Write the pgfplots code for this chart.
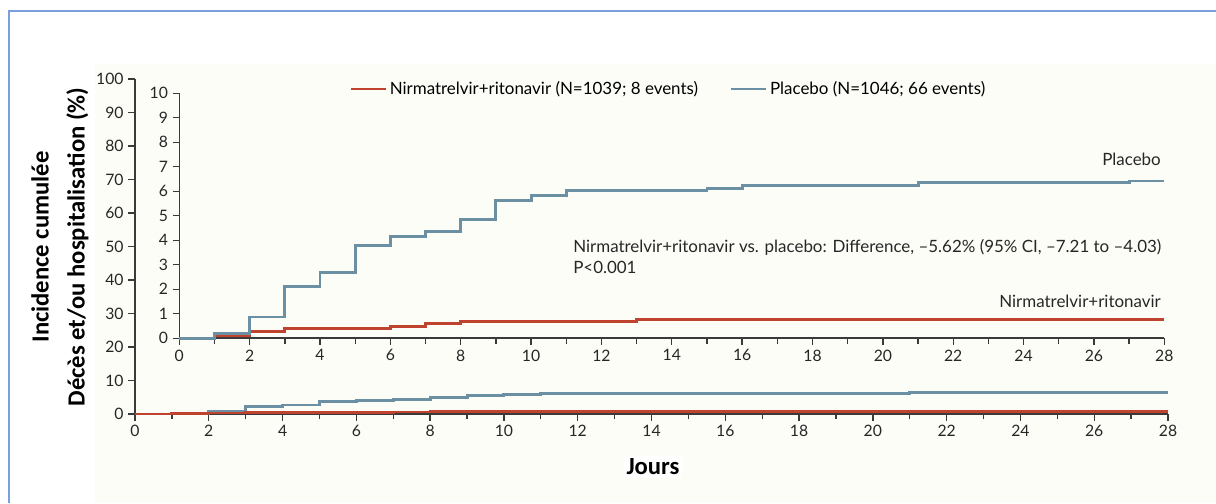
\documentclass[border=0pt]{standalone}
\usepackage{fontspec}
\setmainfont{Lato}
\newfontfamily\carlito{Carlito}
\usepackage{pgfplots}
\pgfplotsset{compat=1.18}
\usepackage{pgfplotstable}

\definecolor{nirma}{HTML}{C0432F}
\definecolor{plac}{HTML}{6B8FA3}
\definecolor{axgray}{HTML}{3A3A3A}
\definecolor{frameblue}{HTML}{7A9FDC}
\definecolor{cream}{HTML}{FDFDF8}

% cumulative incidence (%), step changes by day
\pgfplotstableread{
day inc
0  0
1  0.20
2  0.87
3  2.12
4  2.69
5  3.77
6  4.16
7  4.35
8  4.85
9  5.64
10 5.81
11 6.03
15 6.11
16 6.22
21 6.34
27 6.42
28 6.42
}\placebo

\pgfplotstableread{
day inc
0  0
1  0.11
2  0.29
3  0.40
6  0.48
7  0.59
8  0.68
13 0.78
28 0.78
}\nirma

\pgfplotsset{kmstyle/.style={
    scale only axis,
    axis lines*=left,
    axis line style={axgray, line width=1.2pt, -},
    tick align=outside,
    major tick length=5pt,
    minor tick length=4pt,
    tick style={axgray, line width=1pt},
    xmin=0, xmax=28,
    xtick={0,2,...,28},
    minor xtick={1,3,...,27},
    ymin=0,
    tick label style={font=\fontsize{11.8}{13}\selectfont, text=black!85},
    /pgf/number format/assume math mode=true,
    clip=false,
}}

\begin{document}
% coordinates below are reference pixels, measured from the bottom
\begin{tikzpicture}[x=0.75pt, y=0.75pt]
\useasboundingbox (0,0) rectangle (1216,503);
\fill[cream] (95,0) rectangle (1216,439);
\draw[frameblue, line width=1.5pt] (8.5,0) -- (8.5,491.5) -- (1216,491.5);

% full scale 0-100
\begin{axis}[kmstyle,
    at={(101.25pt,66.75pt)}, anchor=south west,
    width=774.75pt, height=251.25pt,
    ymax=100, ytick={0,10,...,100},
]
\addplot[const plot, plac, line width=2.2pt] table[x=day, y=inc] {\placebo};
\addplot[const plot, nirma, line width=2.2pt] table[x=day, y=inc] {\nirma};
\end{axis}

% zoomed inset 0-10
\begin{axis}[kmstyle,
    at={(134.475pt,123.525pt)}, anchor=south west,
    width=738.75pt, height=183.75pt,
    ymax=10, ytick={0,1,...,10},
    legend columns=2,
    legend style={draw=none, fill=none, at={(0.497,1.018)}, anchor=center,
        font=\fontsize{12.7}{15}\selectfont, cells={anchor=west},
        /tikz/every even column/.append style={column sep=22pt}},
    legend image code/.code={\draw[#1, line width=2pt] (0pt,0pt) -- (26pt,0pt);},
]
\addplot[const plot, nirma, line width=2.2pt] table[x=day, y=inc] {\nirma};
\addlegendentry{Nirmatrelvir+ritonavir (N=1039; 8 events)}
\addplot[const plot, plac, line width=2.2pt] table[x=day, y=inc] {\placebo};
\addlegendentry{Placebo (N=1046; 66 events)}
\end{axis}

\begin{scope}[every node/.style={inner sep=0pt, font=\fontsize{12.7}{15}\selectfont, text=black!85}]
\node[anchor=base east] at (1161,337) {Placebo};
\node[anchor=base east] at (1161,195.5) {Nirmatrelvir+ritonavir};
\node[anchor=base west] at (573,250.5) {Nirmatrelvir+ritonavir vs. placebo: Difference, –5.62\% (95\% CI, –7.21 to –4.03)};
\node[anchor=base west] at (573,229.5) {P<0.001};
\end{scope}

\node[rotate=90, align=center, font=\carlito\bfseries\fontsize{18.5}{27}\selectfont] at (60,256)
    {Incidence cumulée\\Décès et/ou hospitalisation (\%)};
\node[fill=white, inner sep=2pt, font=\carlito\bfseries\fontsize{18.5}{22}\selectfont] at (653,36) {Jours};
\end{tikzpicture}
\end{document}
